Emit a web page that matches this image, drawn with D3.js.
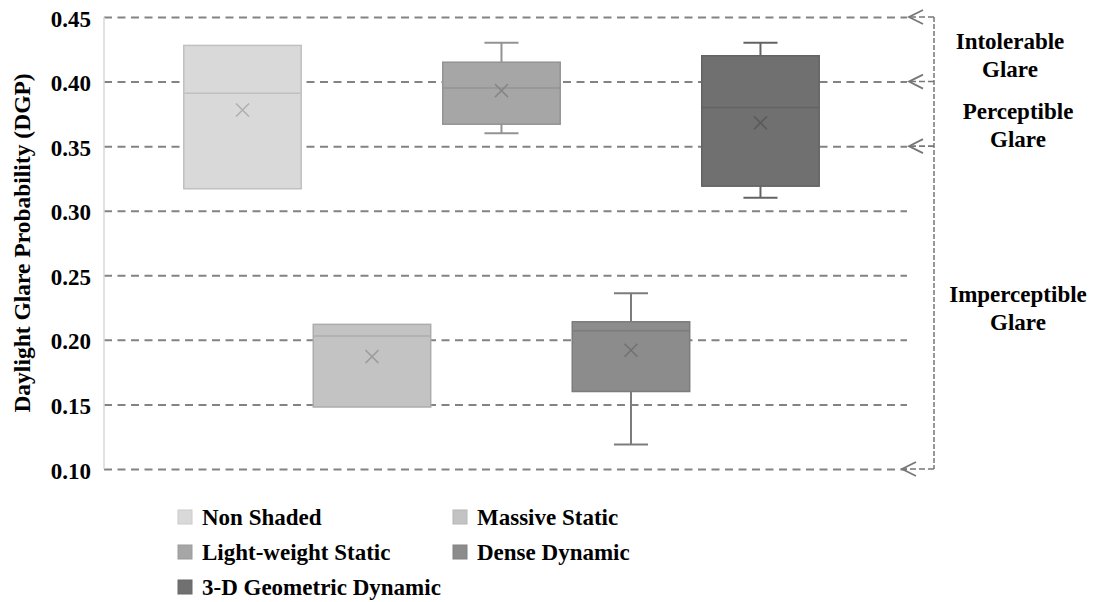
<!DOCTYPE html>
<html>
<head>
<meta charset="utf-8">
<script src="https://cdn.jsdelivr.net/npm/d3@7/dist/d3.min.js"></script>
<style>
  html, body { margin: 0; padding: 0; background: #fff; }
  svg text { font-family: "Liberation Serif", "Times New Roman", serif; font-weight: bold; fill: #000; }
</style>
</head>
<body>
<svg id="chart" width="1095" height="602"></svg>
<script>
// Box-plot statistics for each shading strategy (DGP)
const series      = ["Non Shaded", "Massive Static", "Light-weight Static", "Dense Dynamic", "3-D Geometric Dynamic"];
const whiskerLow  = [0.317, 0.148, 0.360, 0.119, 0.310];
const q1          = [0.317, 0.148, 0.367, 0.160, 0.319];
const median      = [0.391, 0.203, 0.395, 0.207, 0.380];
const q3          = [0.428, 0.212, 0.415, 0.214, 0.420];
const whiskerHigh = [0.428, 0.212, 0.430, 0.236, 0.430];
const mean        = [0.378, 0.187, 0.393, 0.192, 0.368];
const fills       = ["#d9d9d9", "#c3c3c3", "#a6a6a6", "#8c8c8c", "#707070"];

const yTicks = [0.10, 0.15, 0.20, 0.25, 0.30, 0.35, 0.40, 0.45];

// Glare comfort thresholds marked by arrows and zone labels
const thresholds = [0.45, 0.40, 0.35, 0.10];
const zoneLabels = [
  { lines: ["Intolerable", "Glare"], value: 0.4252, dx: 0 },
  { lines: ["Perceptible", "Glare"], value: 0.3710, dx: 8 },
  { lines: ["Imperceptible", "Glare"], value: 0.2296, dx: 8 }
];

const svg = d3.select("#chart");
const plotLeft = 104, plotRight = 907, plotTop = 17, plotBottom = 469;

const y = d3.scaleLinear().domain([0.10, 0.45]).range([plotBottom, plotTop]);
const x = d3.scaleBand().domain(series).range([plotLeft, plotRight])
  .paddingInner(0.093).paddingOuter(0.647).align(0.476);

// Dashed horizontal gridlines
const grid = svg.append("g")
  .attr("transform", `translate(${plotLeft},0)`)
  .call(d3.axisLeft(y).tickValues(yTicks).tickSize(-(plotRight - plotLeft)).tickFormat(""));
grid.select(".domain").remove();
grid.selectAll(".tick line")
  .attr("stroke", "#838383").attr("stroke-width", 2).attr("stroke-dasharray", "8,5.5");

// Vertical axis line
svg.append("line")
  .attr("x1", plotLeft).attr("x2", plotLeft)
  .attr("y1", plotTop).attr("y2", plotBottom)
  .attr("stroke", "#d9d9d9").attr("stroke-width", 1.5);

// Tick labels
svg.append("g").selectAll("text").data(yTicks).join("text")
  .attr("x", 91).attr("y", d => y(d) + 9.5)
  .attr("text-anchor", "end").attr("font-size", 23)
  .text(d => d3.format(".2f")(d));

// Axis title
svg.append("text")
  .attr("transform", `translate(30,${(plotTop + plotBottom) / 2}) rotate(-90)`)
  .attr("text-anchor", "middle").attr("font-size", 23.5)
  .text("Daylight Glare Probability (DGP)");

// Boxes
const boxes = svg.append("g").selectAll("g").data(series).join("g");
const bw = x.bandwidth();
boxes.each(function (s, i) {
  const g = d3.select(this);
  const cx = x(s) + bw / 2;
  const edge = d3.color(fills[i]).darker(0.35).formatHex();
  const capW = bw * 0.29;
  // whiskers
  [[whiskerHigh[i], q3[i]], [whiskerLow[i], q1[i]]].forEach(([w, q]) => {
    if (Math.abs(w - q) > 1e-6) {
      g.append("line").attr("x1", cx).attr("x2", cx).attr("y1", y(w)).attr("y2", y(q))
        .attr("stroke", edge).attr("stroke-width", 2);
      g.append("line").attr("x1", cx - capW / 2).attr("x2", cx + capW / 2).attr("y1", y(w)).attr("y2", y(w))
        .attr("stroke", edge).attr("stroke-width", 2);
    }
  });
  g.append("rect")
    .attr("x", x(s)).attr("width", bw)
    .attr("y", y(q3[i])).attr("height", y(q1[i]) - y(q3[i]))
    .attr("fill", fills[i]).attr("stroke", edge).attr("stroke-width", 1.5);
  g.append("line")
    .attr("x1", x(s)).attr("x2", x(s) + bw)
    .attr("y1", y(median[i])).attr("y2", y(median[i]))
    .attr("stroke", edge).attr("stroke-width", 1.5);
  // mean marker
  const my = y(mean[i]), r = 6.5;
  const markColor = d3.color(fills[i]).darker(0.6).formatHex();
  g.append("path")
    .attr("d", `M${cx - r},${my - r}L${cx + r},${my + r}M${cx - r},${my + r}L${cx + r},${my - r}`)
    .attr("stroke", markColor).attr("stroke-width", 1.5).attr("fill", "none");
});

// Threshold bracket with arrows
const bracketX = 934;
const ann = svg.append("g").attr("stroke", "#777").attr("fill", "none");
ann.append("line")
  .attr("x1", bracketX).attr("x2", bracketX)
  .attr("y1", y(0.45)).attr("y2", y(0.10))
  .attr("stroke-width", 1.5).attr("stroke-dasharray", "5,2");
thresholds.forEach(t => {
  const yy = y(t);
  const tip = t === 0.10 ? 902 : 909;
  ann.append("line")
    .attr("x1", bracketX).attr("x2", tip).attr("y1", yy).attr("y2", yy)
    .attr("stroke-width", 1.6).attr("stroke-dasharray", "6,3");
  ann.append("path")
    .attr("d", `M${tip + 14},${yy - 7}L${tip},${yy}L${tip + 14},${yy + 7}`)
    .attr("stroke-width", 1.8);
});

// Zone labels
zoneLabels.forEach(z => {
  const t = svg.append("text").attr("text-anchor", "middle").attr("font-size", 23);
  z.lines.forEach((ln, k) => {
    t.append("tspan").attr("x", 1010 + z.dx).attr("y", y(z.value) + 28 * k).text(ln);
  });
});

// Legend
const legend = svg.append("g").selectAll("g").data(series).join("g")
  .attr("transform", (d, i) => `translate(${178 + (i % 2) * 275},${510 + Math.floor(i / 2) * 35})`);
legend.append("rect")
  .attr("width", 14).attr("height", 14)
  .attr("fill", (d, i) => fills[i])
  .attr("stroke", (d, i) => d3.color(fills[i]).darker(0.2).formatHex()).attr("stroke-width", 1);
legend.append("text")
  .attr("x", 24).attr("y", 15).attr("font-size", 23)
  .text(d => d);
</script>
</body>
</html>
